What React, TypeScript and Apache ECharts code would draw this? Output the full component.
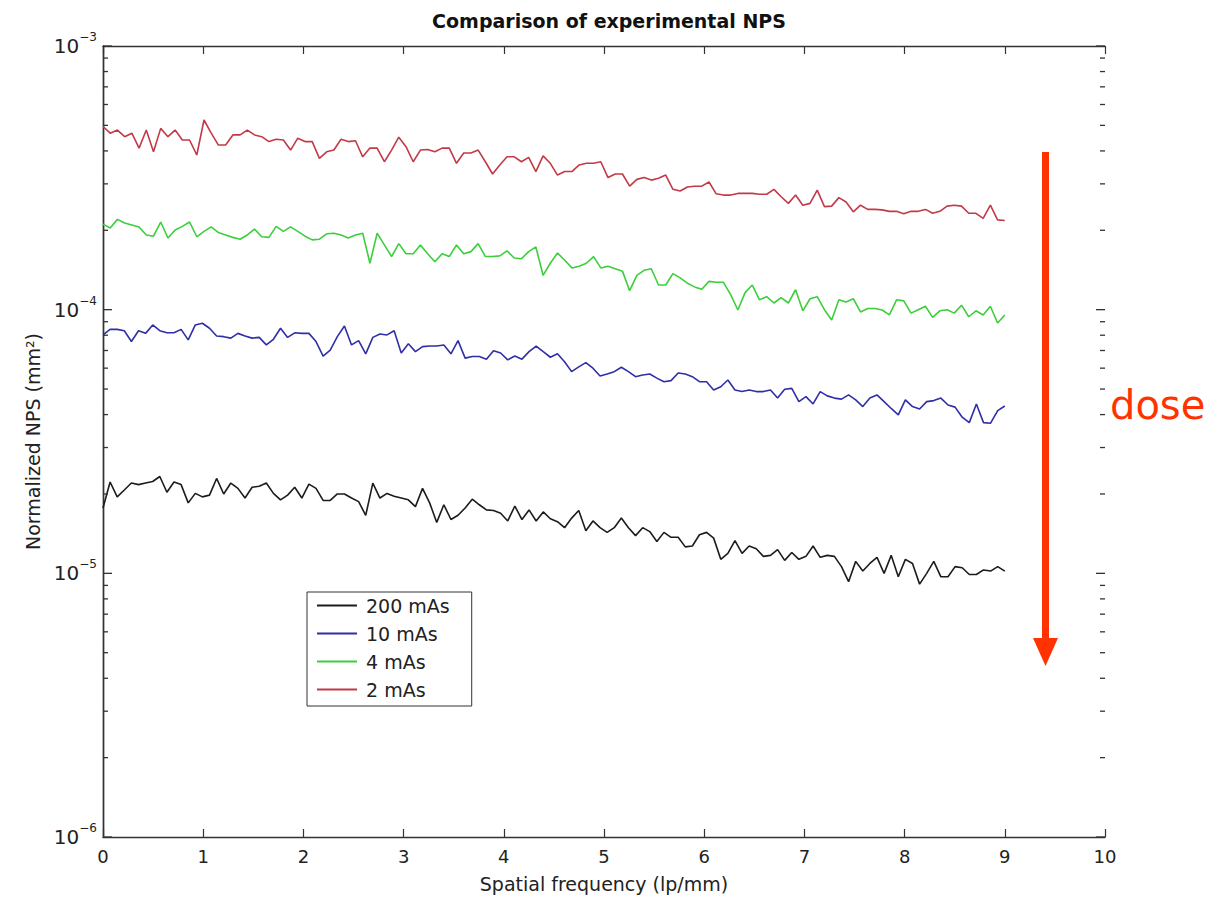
import React, { useEffect, useRef } from "react";
import * as echarts from "echarts";

const TITLE = "Comparison of experimental NPS";
const X_NAME = "Spatial frequency (lp/mm)";
const Y_NAME = "Normalized NPS (mm²)";
const FREQ_MAX = 9;
const X_MIN = 0;
const X_MAX = 10;
const Y_MIN = 1e-6;
const Y_MAX = 1e-3;
const UNIT = 1e-5; // values below are in units of 1e-5 mm^2
const MINOR_MULTIPLIERS = [2, 3, 4, 5, 6, 7, 8, 9];
const MINOR_DECADES = [1e-6, 1e-5, 1e-4];

const SERIES_NAMES = ["200 mAs", "10 mAs", "4 mAs", "2 mAs"];
const SERIES_COLORS = ["#1c1c1c", "#2f2fa6", "#3ccf3c", "#c23a48"];

const NPS_200 = [
  1.77, 2.22, 1.95, 2.07, 2.2, 2.17, 2.2, 2.23, 2.33, 2.03, 2.22, 2.17, 1.85, 2.01, 1.95, 1.98,
  2.29, 2.0, 2.2, 2.1, 1.93, 2.12, 2.14, 2.2, 2.01, 1.9, 1.98, 2.12, 1.93, 2.18, 2.1, 1.89, 1.89,
  2.0, 2.0, 1.93, 1.87, 1.66, 2.2, 1.93, 2.01, 1.96, 1.93, 1.9, 1.79, 2.1, 1.85, 1.56, 1.82, 1.6,
  1.66, 1.77, 1.91, 1.82, 1.74, 1.73, 1.69, 1.58, 1.8, 1.6, 1.74, 1.58, 1.71, 1.61, 1.57,
  1.49, 1.62, 1.73, 1.45, 1.58, 1.49, 1.43, 1.49, 1.62, 1.49, 1.39, 1.49, 1.44, 1.32, 1.43, 1.37,
  1.37, 1.26, 1.27, 1.4, 1.43, 1.36, 1.13, 1.19, 1.33, 1.19, 1.27, 1.24, 1.16, 1.17, 1.23, 1.12,
  1.2, 1.13, 1.16, 1.27, 1.15, 1.17, 1.16, 1.06, 0.93, 1.11, 1.02, 1.09, 1.15, 1.0, 1.17, 0.97,
  1.13, 1.09, 0.91, 1.0, 1.11, 0.97, 0.97, 1.06, 1.05, 0.99, 0.99, 1.03, 1.02, 1.06, 1.02,
];

const NPS_10 = [
  8.02, 8.42, 8.42, 8.32, 7.57, 8.32, 8.13, 8.75, 8.32, 8.17, 8.17, 8.42, 7.68, 8.75, 8.88, 8.5,
  7.95, 7.9, 7.8, 8.13, 7.95, 7.8, 7.85, 7.35, 7.72, 8.5, 7.85, 8.17, 8.13, 8.13, 7.57, 6.67, 7.03,
  7.9, 8.67, 7.35, 7.63, 6.8, 7.85, 8.09, 8.02, 8.32, 6.85, 7.42, 6.93, 7.24, 7.28, 7.28, 7.35, 6.8,
  7.63, 6.55, 6.64, 6.64, 6.49, 6.99, 6.85, 6.45, 6.67, 6.49, 6.93, 7.28, 6.93, 6.6, 6.8,
  6.35, 5.82, 6.07, 6.3, 6.0, 5.6, 5.7, 5.82, 6.05, 5.82, 5.57, 5.65, 5.7, 5.5, 5.33, 5.38, 5.75,
  5.7, 5.57, 5.33, 5.33, 4.96, 5.1, 5.41, 4.96, 4.89, 4.96, 4.89, 4.89, 4.96, 4.62, 4.99, 5.03,
  4.48, 4.68, 4.39, 4.89, 4.71, 4.62, 4.58, 4.75, 4.55, 4.29, 4.62, 4.75, 4.48, 4.22, 3.99, 4.55,
  4.29, 4.2, 4.48, 4.52, 4.62, 4.35, 4.27, 3.91, 3.73, 4.39, 3.73, 3.71, 4.14, 4.31,
];

const NPS_4 = [
  21.1, 20.4, 22.0, 21.3, 20.95, 20.6, 19.2, 19.0, 21.5, 18.7, 20.05, 20.7, 21.5, 18.9, 19.8, 20.6,
  19.6, 19.2, 18.8, 18.5, 19.2, 20.2, 18.9, 18.8, 20.7, 19.8, 20.6, 19.8, 19.0, 18.4, 18.5, 19.4,
  19.5, 19.2, 18.7, 19.2, 19.5, 15.0, 19.5, 17.6, 15.9, 17.8, 16.3, 16.3, 17.6, 16.3, 15.2, 16.3,
  15.9, 17.6, 16.3, 16.6, 17.8, 15.9, 15.9, 16.0, 16.7, 15.7, 15.6, 16.6, 17.3, 13.5, 15.0,
  16.4, 15.4, 14.4, 14.6, 15.0, 15.9, 14.4, 14.6, 14.3, 14.0, 11.8, 13.5, 14.1, 14.3, 12.4, 12.4,
  13.7, 13.2, 12.6, 12.2, 11.95, 12.8, 12.7, 12.7, 11.4, 9.97, 11.6, 12.4, 10.9, 11.2, 10.6, 11.1,
  10.6, 11.9, 9.9, 11.0, 11.2, 10.0, 9.14, 10.9, 10.7, 11.0, 9.8, 10.1, 10.1, 9.97, 9.55, 10.9,
  10.8, 9.7, 10.0, 10.3, 9.35, 9.9, 10.0, 9.7, 10.4, 9.4, 9.9, 9.55, 10.3, 8.9, 9.55,
];

const NPS_2 = [
  49.5, 46.7, 48.0, 45.3, 46.7, 41.0, 48.0, 39.7, 48.7, 45.3, 48.0, 44.0, 44.0, 38.6, 52.4, 46.7,
  42.1, 42.1, 46.0, 46.0, 48.0, 46.0, 45.3, 43.4, 44.3, 44.0, 40.3, 44.7, 43.4, 43.4, 37.5, 39.7,
  40.3, 44.3, 43.4, 43.7, 38.0, 41.0, 41.0, 36.4, 40.3, 45.1, 41.5, 36.4, 40.3, 40.5, 39.7, 41.0,
  41.0, 35.9, 39.3, 39.3, 40.3, 36.4, 32.7, 35.4, 38.0, 38.0, 36.4, 37.8, 33.4, 38.3, 35.9,
  32.4, 33.4, 33.4, 35.4, 35.9, 35.9, 36.4, 31.7, 32.7, 32.7, 29.4, 31.2, 31.7, 31.0, 31.5, 32.4,
  28.6, 28.2, 29.2, 29.4, 29.4, 30.5, 27.5, 27.2, 27.2, 27.6, 27.6, 27.6, 27.4, 27.4, 28.6, 26.8,
  25.3, 27.2, 24.9, 25.3, 28.4, 24.6, 24.7, 26.6, 25.6, 23.5, 24.9, 24.0, 24.0, 23.9, 23.6, 23.6,
  23.1, 23.6, 23.6, 24.0, 23.2, 23.6, 24.7, 24.9, 24.7, 23.2, 23.2, 22.2, 24.9, 21.9, 21.8,
];

const SERIES_VALUES = [NPS_200, NPS_10, NPS_4, NPS_2];

const FONT = "'DejaVu Sans', 'Liberation Sans', Arial, sans-serif";
const AXIS_COLOR = "#333";
const TEXT_COLOR = "#222";
const ARROW_COLOR = "#ff3300";
const GRID_LEFT = 103;
const GRID_TOP = 46;
const GRID_WIDTH = 1002;
const GRID_HEIGHT = 791;

function toPoints(values: number[]) {
  const n = values.length;
  return values.map((v, i) => [(i * FREQ_MAX) / (n - 1), v * UNIT]);
}

function expLabel(v: number) {
  const e = Math.round(Math.log10(v));
  return `{b|10}{s|−${Math.abs(e)}}`;
}

const ANNOTATIONS: any[] = [
  { type: "rect", shape: { x: 1042, y: 152, width: 7, height: 490 }, style: { fill: ARROW_COLOR }, z: 10 },
  {
    type: "polygon",
    shape: { points: [[1033, 638], [1058, 638], [1045.5, 666]] },
    style: { fill: ARROW_COLOR },
    z: 10,
  },
  {
    type: "text",
    x: 1110,
    y: 405,
    style: {
      text: "dose",
      fill: ARROW_COLOR,
      fontSize: 40,
      fontFamily: "'Comic Sans MS', 'DejaVu Sans', sans-serif",
      verticalAlign: "middle",
      align: "left",
    },
    z: 10,
  },
];

export default function App() {
  const ref = useRef<HTMLDivElement>(null);

  useEffect(() => {
    document.body.style.margin = "0";
    if (!ref.current) return;
    const chart = echarts.init(ref.current, null, { renderer: "svg" });

    const lineSeries = SERIES_NAMES.map((name, i) => ({
      name,
      type: "line",
      data: toPoints(SERIES_VALUES[i]),
      symbol: "none",
      showSymbol: false,
      lineStyle: { color: SERIES_COLORS[i], width: 1.6 },
      itemStyle: { color: SERIES_COLORS[i] },
      z: 3,
    }));

    const axisLine = { show: true, lineStyle: { color: AXIS_COLOR, width: 1.4 } };
    const majorTick = { show: true, inside: true, length: 8, lineStyle: { color: AXIS_COLOR, width: 1.2 } };

    const option: any = {
      animation: false,
      backgroundColor: "#fff",
      title: {
        text: TITLE,
        left: 604,
        textAlign: "center",
        top: 6,
        textStyle: { fontFamily: FONT, fontSize: 19, fontWeight: "bold", color: "#111" },
      },
      grid: { left: GRID_LEFT, top: GRID_TOP, width: GRID_WIDTH, height: GRID_HEIGHT },
      legend: {
        data: SERIES_NAMES.map((n) => ({ name: n, icon: "rect" })),
        orient: "vertical",
        left: 307,
        top: 592,
        padding: [4, 22, 7, 10],
        itemWidth: 40,
        itemHeight: 2,
        itemGap: 9,
        borderColor: "#333",
        borderWidth: 1,
        backgroundColor: "#fff",
        selectedMode: false,
        textStyle: { fontFamily: FONT, fontSize: 19, lineHeight: 17, color: TEXT_COLOR, padding: [0, 0, 0, 4] },
      },
      xAxis: [
        {
          type: "value",
          min: X_MIN,
          max: X_MAX,
          interval: 1,
          position: "bottom",
          name: X_NAME,
          nameLocation: "middle",
          nameGap: 37,
          nameTextStyle: { fontFamily: FONT, fontSize: 19, color: TEXT_COLOR },
          axisLine,
          axisTick: majorTick,
          axisLabel: { margin: 10, fontFamily: FONT, fontSize: 18, color: TEXT_COLOR },
          splitLine: { show: false },
        },
        {
          type: "value",
          min: X_MIN,
          max: X_MAX,
          interval: 1,
          position: "top",
          axisLine,
          axisTick: majorTick,
          axisLabel: { show: false },
          splitLine: { show: false },
        },
      ],
      yAxis: [
        {
          type: "log",
          logBase: 10,
          min: Y_MIN,
          max: Y_MAX,
          position: "left",
          name: Y_NAME,
          nameLocation: "middle",
          nameGap: 58,
          nameTextStyle: { fontFamily: FONT, fontSize: 19, color: TEXT_COLOR },
          axisLine,
          axisTick: { show: false },
          axisLabel: {
            margin: 6,
            formatter: expLabel,
            rich: {
              b: { fontFamily: FONT, fontSize: 20, color: TEXT_COLOR },
              s: { fontFamily: FONT, fontSize: 12, color: TEXT_COLOR, padding: [0, 0, 18, 0] },
            },
          },
          splitLine: { show: false },
        },
        {
          type: "log",
          logBase: 10,
          min: Y_MIN,
          max: Y_MAX,
          position: "right",
          axisLine,
          axisTick: { show: false },
          axisLabel: { show: false },
          splitLine: { show: false },
        },
      ],
      series: lineSeries,
      graphic: ANNOTATIONS,
    };

    chart.setOption(option);

    // major + minor log ticks on both vertical frame edges (frame x from grid layout, y from the log scale)
    const xl = GRID_LEFT;
    const xr = GRID_LEFT + GRID_WIDTH;
    const st = { stroke: AXIS_COLOR, lineWidth: 1.3 };
    const ticks: any[] = [];
    const addTick = (v: number, len: number) => {
      const y = chart.convertToPixel({ yAxisIndex: 0 }, v) as number;
      ticks.push({ type: "line", shape: { x1: xl, y1: y, x2: xl + len, y2: y }, style: st, z: 40 });
      ticks.push({ type: "line", shape: { x1: xr - len, y1: y, x2: xr, y2: y }, style: st, z: 40 });
    };
    MINOR_DECADES.forEach((d) => {
      addTick(d, 9);
      MINOR_MULTIPLIERS.forEach((m) => addTick(m * d, 5));
    });
    addTick(Y_MAX, 9);

    chart.setOption({ graphic: [...ANNOTATIONS, ...ticks] });

    return () => chart.dispose();
  }, []);

  return <div ref={ref} style={{ width: 1215, height: 901 }} />;
}
